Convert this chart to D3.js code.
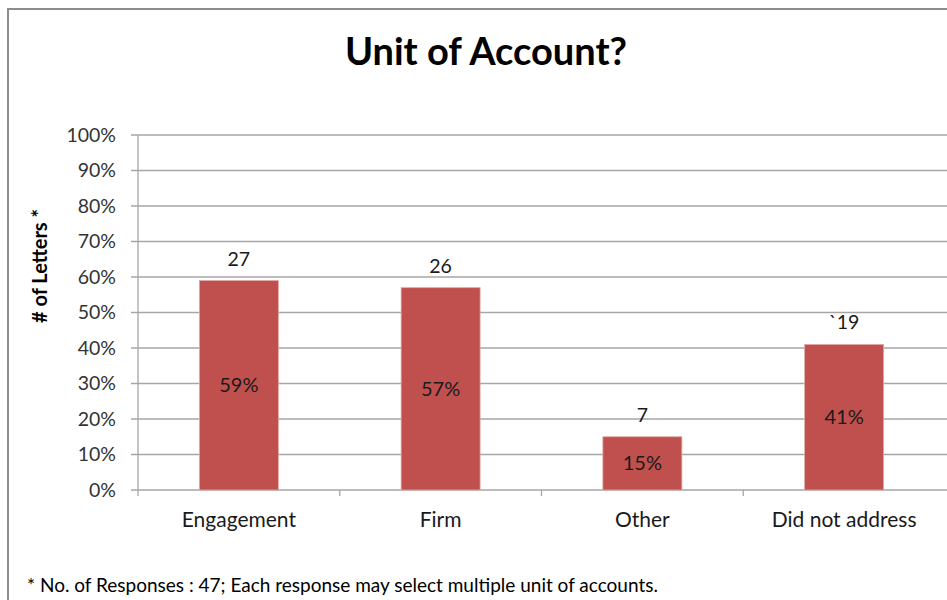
<html>
<script src="https://d3js.org/d3.v7.min.js"></script>
<style>
  body { margin: 0; background: #fff; }
  text { font-family: Lato, "Open Sans", sans-serif; }
</style>
<body>
<script>
  // chart data
  const categories = ["Engagement", "Firm", "Other", "Did not address"];
  const shares = [0.59, 0.57, 0.15, 0.41];
  const shareLabels = ["59%", "57%", "15%", "41%"];
  const countLabels = ["27", "26", "7", "`19"];
  const yTicks = [0, 0.1, 0.2, 0.3, 0.4, 0.5, 0.6, 0.7, 0.8, 0.9, 1.0];

  const W = 947, H = 600;
  const plot = {left: 138, right: 945, top: 135, bottom: 490};

  const svg = d3.select("body").append("svg")
    .attr("width", W).attr("height", H);

  // outer frame (only top and left visible)
  svg.append("path")
    .attr("d", "M8,640 L8,9 L960,9")
    .attr("fill", "none").attr("stroke", "#8c8c8c").attr("stroke-width", 2);

  let x = d3.scaleBand().domain(categories).range([plot.left, plot.right]).padding(0);
  let y = d3.scaleLinear().domain([0, 1]).range([plot.bottom, plot.top]);

  // gridlines
  svg.append("g").selectAll("line").data(yTicks).enter().append("line")
    .attr("x1", plot.left - 7).attr("x2", W)
    .attr("y1", d => y(d)).attr("y2", d => y(d))
    .attr("stroke", "#a6a6a6").attr("stroke-width", 1.3);

  // y axis line
  svg.append("line")
    .attr("x1", plot.left).attr("x2", plot.left)
    .attr("y1", plot.top).attr("y2", plot.bottom + 6)
    .attr("stroke", "#a6a6a6").attr("stroke-width", 1.3);

  // category tick marks
  svg.append("g").selectAll("line").data(categories.slice(1)).enter().append("line")
    .attr("x1", d => x(d)).attr("x2", d => x(d))
    .attr("y1", plot.bottom).attr("y2", plot.bottom + 6)
    .attr("stroke", "#a6a6a6").attr("stroke-width", 1.3);

  // y tick labels
  svg.append("g").selectAll("text").data(yTicks).enter().append("text")
    .attr("x", plot.left - 22).attr("y", d => y(d))
    .attr("dy", "0.35em").attr("text-anchor", "end")
    .attr("font-size", 19.5).attr("fill", "#333")
    .text(d => d3.format(".0%")(d));

  // bars
  const barW = 79;
  svg.append("g").selectAll("rect").data(categories).enter().append("rect")
    .attr("x", d => x(d) + x.bandwidth() / 2 - barW / 2)
    .attr("width", barW)
    .attr("y", (d, i) => y(shares[i]))
    .attr("height", (d, i) => plot.bottom - y(shares[i]))
    .attr("fill", "#c0504d").attr("stroke", "#e3a9a7").attr("stroke-width", 0.8);

  // count labels above bars
  svg.append("g").selectAll("text").data(categories).enter().append("text")
    .attr("x", d => x(d) + x.bandwidth() / 2)
    .attr("y", (d, i) => y(shares[i]) - 15)
    .attr("text-anchor", "middle").attr("font-size", 19.5).attr("fill", "#1a1a1a")
    .text((d, i) => countLabels[i]);

  // percent labels inside bars
  svg.append("g").selectAll("text").data(categories).enter().append("text")
    .attr("x", d => x(d) + x.bandwidth() / 2)
    .attr("y", (d, i) => (y(shares[i]) + plot.bottom) / 2)
    .attr("dy", "0.35em")
    .attr("text-anchor", "middle").attr("font-size", 20).attr("fill", "#1a1a1a")
    .text((d, i) => shareLabels[i]);

  // category labels
  svg.append("g").selectAll("text").data(categories).enter().append("text")
    .attr("x", d => x(d) + x.bandwidth() / 2)
    .attr("y", 520).attr("dy", "0.35em")
    .attr("text-anchor", "middle").attr("font-size", 21).attr("fill", "#1a1a1a")
    .text(d => d);

  // title
  svg.append("text")
    .attr("x", 486).attr("y", 52).attr("dy", "0.35em")
    .attr("text-anchor", "middle").attr("font-size", 38).attr("font-weight", "bold")
    .attr("fill", "#000")
    .text("Unit of Account?");

  // y axis title
  svg.append("text")
    .attr("transform", "translate(40,266) rotate(-90)")
    .attr("dy", "0.35em")
    .attr("text-anchor", "middle").attr("font-size", 20).attr("font-weight", "bold")
    .attr("fill", "#000")
    .text("# of Letters *");

  // footnote
  svg.append("text")
    .attr("x", 27).attr("y", 585).attr("dy", "0.35em")
    .attr("font-size", 19).attr("fill", "#000")
    .text("* No. of Responses : 47; Each response may select multiple unit of accounts.");
</script>
</body>
</html>
